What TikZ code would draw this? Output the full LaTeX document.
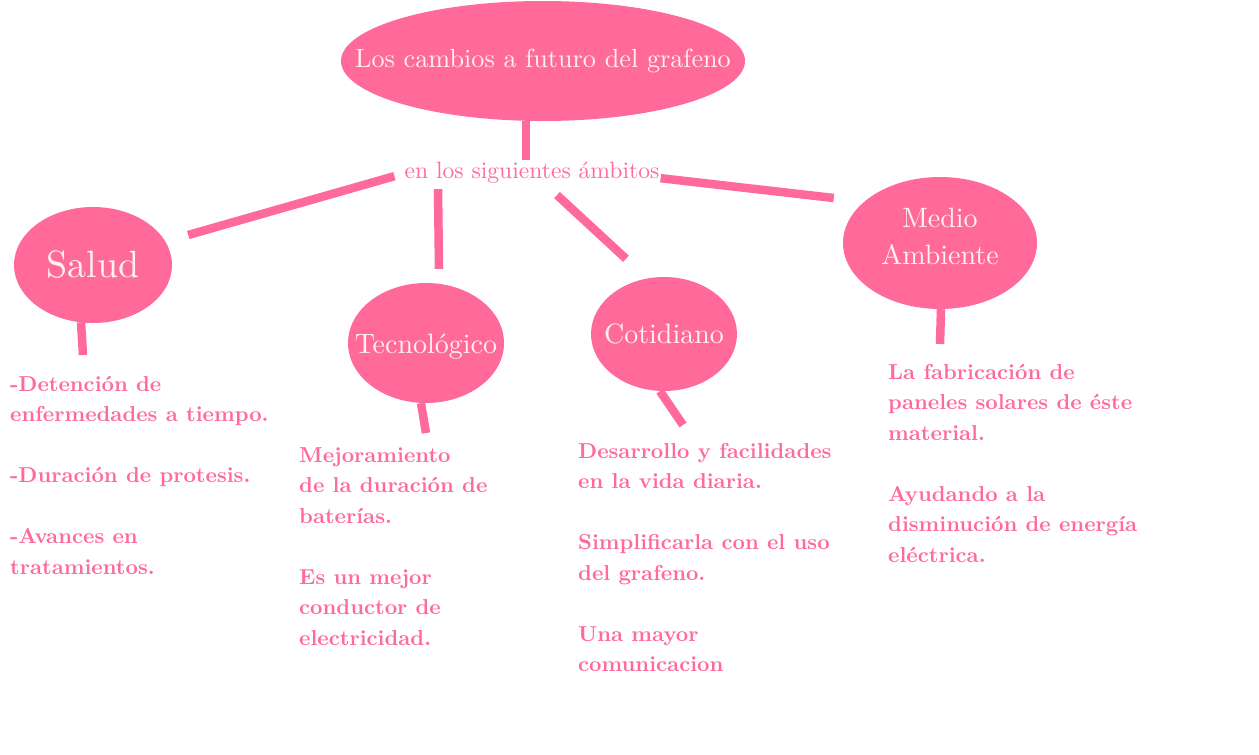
\documentclass[tikz,border=0pt]{standalone}
\usepackage{fontspec}
\setmainfont{lmroman10-regular.otf}[BoldFont=lmroman10-bold.otf]
\usepackage{tikz}
\usetikzlibrary{shapes.geometric,positioning}
\definecolor{rosa}{HTML}{FF6A9A}
\definecolor{blush}{HTML}{FFF0F4}

\begin{document}
\begin{tikzpicture}[x=1pt,y=-1pt,
  blob/.style={ellipse,fill=rosa,inner sep=0pt,text=blush,align=center,font=\fontsize{28}{35}\selectfont},
  link/.style={draw=rosa,line width=8.5pt},
  note/.style={anchor=north west,inner sep=0pt,align=left,text=rosa,font=\fontsize{21.6}{30.5}\selectfont\bfseries}]
\useasboundingbox (0,0) rectangle (1259,755);
% central idea
\node[blob,minimum width=404pt,minimum height=120pt,font=\fontsize{26.2}{30}\selectfont] (top) at (543,61)
  {\makebox[0pt]{Los cambios a futuro del grafeno}};
\node[anchor=base,inner sep=0pt,text=rosa,font=\fontsize{23.6}{26}\selectfont] (ambitos) at (532,178) {en los siguientes ámbitos};
% the four fields
\node[blob,minimum width=158pt,minimum height=116pt,font=\fontsize{38}{40}\selectfont] (salud) at (93,265) {\makebox[0pt]{Salud}};
\node[blob,minimum width=156pt,minimum height=120pt] (tec) at (426,343) {\makebox[0pt]{\raisebox{-10pt}[0pt][0pt]{Tecnológico}}};
\node[blob,minimum width=146pt,minimum height=114pt] (cot) at (664,334) {\makebox[0pt]{Cotidiano}};
\node[blob,minimum width=194pt,minimum height=132pt] (medio) at (940,243)
  {\raisebox{-2pt}[0pt][0pt]{\begin{tabular}{@{}c@{}}Medio\\[2pt]Ambiente\end{tabular}}};
% notes under each field
\node[note] (saludtxt) at (10,376) {-Detención de\\enfermedades a tiempo.\\[30.5pt]-Duración de protesis.\\[30.5pt]-Avances en\\tratamientos.};
\node[note] (tectxt) at (299,447) {Mejoramiento\\de la duración de\\baterías.\\[30.5pt]Es un mejor\\conductor de\\electricidad.};
\node[note] (cottxt) at (578,443) {Desarrollo y facilidades\\en la vida diaria.\\[30.5pt]Simplificarla con el uso\\del grafeno.\\[30.5pt]Una mayor\\comunicacion};
\node[note] (mediotxt) at (888,364) {La fabricación de\\paneles solares de éste\\material.\\[30.5pt]Ayudando a la\\disminución de energía\\eléctrica.};
% connectors
\draw[link] ([xshift=-17pt]top.south) -- ([xshift=-6pt,yshift=1pt]ambitos.north);
\draw[link] ([xshift=-10pt,yshift=-4pt]ambitos.west) -- ([xshift=16pt,yshift=30pt]salud.east);
\draw[link] ([xshift=-94pt,yshift=-6pt]ambitos.south) -- ([xshift=13pt,yshift=14pt]tec.north);
\draw[link] ([xshift=25pt,yshift=-12pt]ambitos.south) -- ([xshift=-38pt,yshift=18pt]cot.north);
\draw[link] ([xshift=1pt,yshift=-6pt]ambitos.east) -- ([xshift=-9pt,yshift=45pt]medio.west);
\draw[link] ([xshift=-12pt,yshift=1pt]salud.south) -- ([xshift=73pt,yshift=21pt]saludtxt.north west);
\draw[link] ([xshift=-5pt]tec.south) -- ([xshift=127pt,yshift=14pt]tectxt.north west);
\draw[link] ([xshift=-4pt]cot.south) -- ([xshift=105pt,yshift=18pt]cottxt.north west);
\draw[link] ([xshift=1pt]medio.south) -- ([xshift=52pt,yshift=20pt]mediotxt.north west);
\end{tikzpicture}
\end{document}
